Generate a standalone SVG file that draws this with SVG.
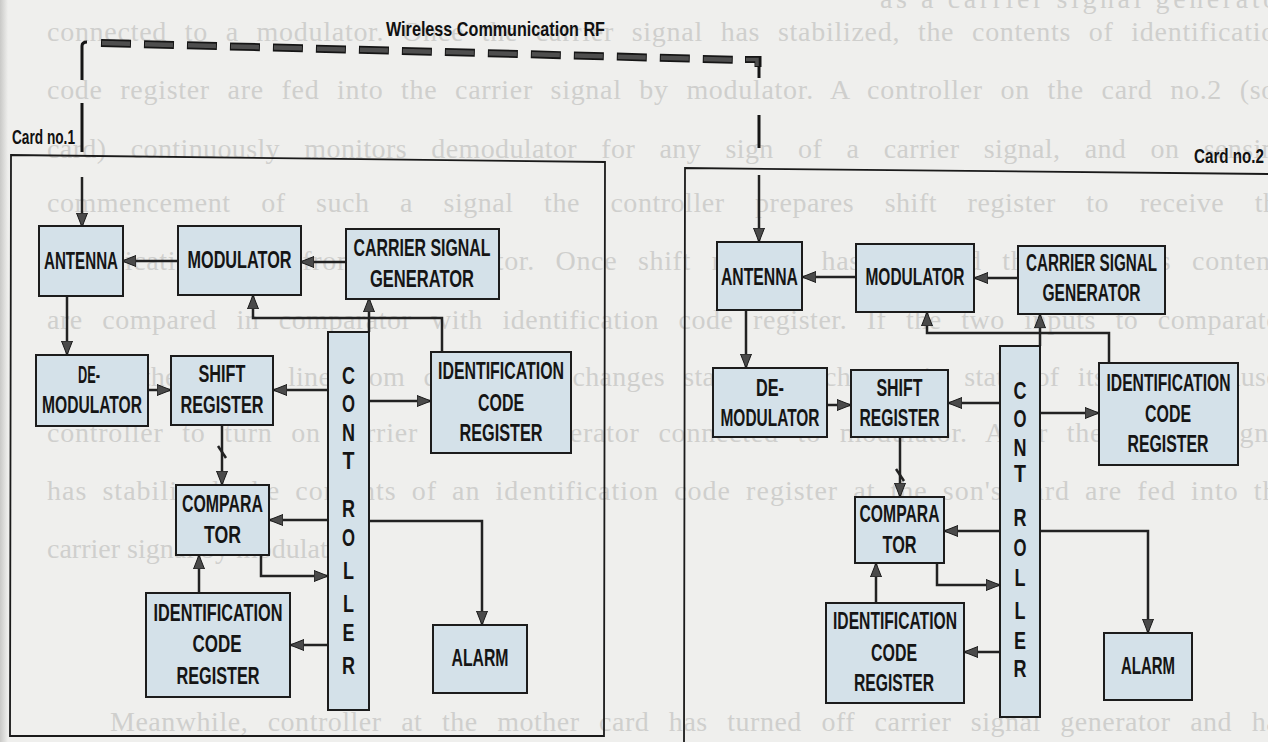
<svg xmlns="http://www.w3.org/2000/svg" width="1268" height="742" viewBox="0 0 1268 742">
<defs>
<style>
.pg{font-family:"Liberation Serif","Times New Roman",serif;font-size:28px;fill:#cfcfcd}
.box{fill:#d4e1e9;stroke:#1c1c1c;stroke-width:2}
.lbl{font-family:"Liberation Sans Narrow","Liberation Sans",Arial,sans-serif;font-weight:bold;font-size:23px;fill:#151515;text-anchor:middle}
.ctl{font-family:"Liberation Sans Narrow","Liberation Sans",Arial,sans-serif;font-weight:bold;font-size:23px;fill:#151515;text-anchor:middle}
.cap{font-family:"Liberation Sans Narrow","Liberation Sans",Arial,sans-serif;font-weight:bold;font-size:21px;fill:#111}
.card{fill:none;stroke:#1a1a1a;stroke-width:1.8}
.ln{fill:none;stroke:#222;stroke-width:2.5}
.ar{marker-end:url(#ah)}
.thin{fill:none;stroke:#151515;stroke-width:3}
</style>
<marker id="ah" markerUnits="userSpaceOnUse" markerWidth="14" markerHeight="12" viewBox="0 0 14 12" refX="13" refY="6" orient="auto">
<path d="M0,0.5 L14,6 L0,11.5 z" fill="#4a4a4a" stroke="#1a1a1a" stroke-width="1"/>
</marker>
<linearGradient id="edge" x1="0" y1="0" x2="1" y2="0">
<stop offset="0" stop-color="#c9c9c7"/>
<stop offset="1" stop-color="#efefed"/>
</linearGradient>
</defs>
<rect x="0" y="0" width="1268" height="742" fill="#efefed"/>
<rect x="0" y="0" width="8" height="742" fill="url(#edge)"/>

<g id="page-text">
<text class="pg" x="880" y="8" textLength="410" lengthAdjust="spacing">as a carrier signal generator</text>
<text class="pg" x="47" y="41" style="word-spacing:10px" textLength="1243" lengthAdjust="spacing">connected to a modulator. Once the carrier signal has stabilized, the contents of identification</text>
<text class="pg" x="47" y="99" style="word-spacing:10px" textLength="1243" lengthAdjust="spacing">code register are fed into the carrier signal by modulator. A controller on the card no.2 (son</text>
<text class="pg" x="47" y="158" style="word-spacing:17px" textLength="1243" lengthAdjust="spacing">card) continuously monitors demodulator for any sign of a carrier signal, and on sensing</text>
<text class="pg" x="47" y="212" style="word-spacing:23px" textLength="1243" lengthAdjust="spacing">commencement of such a signal the controller prepares shift register to receive the</text>
<text class="pg" x="47" y="270" style="word-spacing:13px" textLength="1243" lengthAdjust="spacing">identification code from demodulator. Once shift register has received the code, its contents</text>
<text class="pg" x="47" y="329" style="word-spacing:12px" textLength="1243" lengthAdjust="spacing">are compared in comparator with identification code register. If the two inputs to comparator</text>
<text class="pg" x="47" y="386" style="word-spacing:11px" textLength="1243" lengthAdjust="spacing">match, the output line from comparator changes state. The change in state of its output causes</text>
<text class="pg" x="47" y="442" style="word-spacing:11px" textLength="1243" lengthAdjust="spacing">controller to turn on carrier signal generator connected to modulator. After the carrier signal</text>
<text class="pg" x="47" y="500" style="word-spacing:7px" textLength="1243" lengthAdjust="spacing">has stabilized, the contents of an identification code register at the son's card are fed into the</text>
<text class="pg" x="47" y="558">carrier signal by modulator.</text>
<text class="pg" x="110" y="731" style="word-spacing:12px" textLength="1180" lengthAdjust="spacing">Meanwhile, controller at the mother card has turned off carrier signal generator and has</text>
</g>

<g id="cards">
<path class="card" d="M11,155 L605,162 L604,736 L10,736 Z"/>
<path class="card" d="M1268,174 L685,168 L684,742"/>
<text class="cap" x="12" y="144" textLength="63" lengthAdjust="spacingAndGlyphs">Card no.1</text>
<text class="cap" x="1194" y="163" textLength="70" lengthAdjust="spacingAndGlyphs">Card no.2</text>
</g>

<g id="rf-link">
<line x1="101" y1="43" x2="745" y2="60" stroke="#151515" stroke-width="8" stroke-dasharray="30 13"/>
<line x1="101" y1="43" x2="745" y2="60" stroke="#4e4e4e" stroke-width="4.5" stroke-dasharray="28 15" stroke-dashoffset="-1"/>
<path d="M745,59.5 H758 V67" fill="none" stroke="#151515" stroke-width="7"/>
<path d="M746,59.5 H757 V66" fill="none" stroke="#4e4e4e" stroke-width="3.5"/>
<path class="thin" d="M82,80 V46 Q82,42 87,42"/>
<path class="thin" d="M82,103 V152"/>
<path class="thin" d="M759,66 V78"/>
<path class="thin" d="M759,115 V148"/>
<text class="cap" x="495.5" y="36" text-anchor="middle" font-size="24" textLength="219" lengthAdjust="spacingAndGlyphs">Wireless Communication RF</text>
</g>

<g id="connectors">
<path class="ln ar" d="M82,177 V226"/>
<path class="ln ar" d="M67,296 V354"/>
<path class="ln ar" d="M178,261 H123"/>
<path class="ln ar" d="M346,262 H301"/>
<path class="ln ar" d="M369,332 V299"/>
<path class="ln ar" d="M442,352 V318 H253 V296"/>
<path class="ln ar" d="M148,390 H170"/>
<path class="ln ar" d="M328,390 H274"/>
<path class="ln ar" d="M369,401 H430"/>
<path class="ln ar" d="M222,425 V484"/>
<path class="ln" d="M218,446 L226,458"/>
<path class="ln ar" d="M328,520 H270"/>
<path class="ln ar" d="M369,521 H482 V624"/>
<path class="ln ar" d="M261,555 V576 H327"/>
<path class="ln ar" d="M199,593 V556"/>
<path class="ln ar" d="M328,645 H291"/>

<path class="ln ar" d="M759,175 V241"/>
<path class="ln ar" d="M746,310 V367"/>
<path class="ln ar" d="M856,277 H803"/>
<path class="ln ar" d="M1018,278 H975"/>
<path class="ln ar" d="M1040,346 V315"/>
<path class="ln ar" d="M1109,363 V333 H927 V313"/>
<path class="ln ar" d="M827,405 H850"/>
<path class="ln ar" d="M1000,403 H949"/>
<path class="ln ar" d="M1040,413 H1098"/>
<path class="ln ar" d="M900,437 V496"/>
<path class="ln" d="M896,469 L904,481"/>
<path class="ln ar" d="M1000,531 H945"/>
<path class="ln ar" d="M1040,531 H1148 V632"/>
<path class="ln ar" d="M937,563 V585 H999"/>
<path class="ln ar" d="M876,603 V564"/>
<path class="ln ar" d="M1000,652 H965"/>
</g>

<g id="c1-antenna"><rect class="box" x="39" y="226" width="84" height="70"/><text class="lbl" x="81" y="269" textLength="74" lengthAdjust="spacingAndGlyphs">ANTENNA</text></g>
<g id="c1-modulator"><rect class="box" x="178" y="226" width="123" height="69"/><text class="lbl" x="239.5" y="268" textLength="104" lengthAdjust="spacingAndGlyphs">MODULATOR</text></g>
<g id="c1-carrier"><rect class="box" x="346" y="229" width="153" height="70"/><text class="lbl" x="422" y="256" textLength="137" lengthAdjust="spacingAndGlyphs">CARRIER SIGNAL</text><text class="lbl" x="422" y="287" textLength="104" lengthAdjust="spacingAndGlyphs">GENERATOR</text></g>
<g id="c1-demodulator"><rect class="box" x="36" y="355" width="112" height="71"/><text class="lbl" x="89" y="383" textLength="22" lengthAdjust="spacingAndGlyphs">DE-</text><text class="lbl" x="92" y="413" textLength="100" lengthAdjust="spacingAndGlyphs">MODULATOR</text></g>
<g id="c1-shift"><rect class="box" x="171" y="356" width="102" height="69"/><text class="lbl" x="222" y="382" textLength="47" lengthAdjust="spacingAndGlyphs">SHIFT</text><text class="lbl" x="222" y="413" textLength="83" lengthAdjust="spacingAndGlyphs">REGISTER</text></g>
<g id="c1-controller"><rect class="box" x="328" y="332" width="41" height="378"/>
<text class="ctl" x="348.5" y="384" textLength="13" lengthAdjust="spacingAndGlyphs">C</text>
<text class="ctl" x="348.5" y="412" textLength="13" lengthAdjust="spacingAndGlyphs">O</text>
<text class="ctl" x="348.5" y="441" textLength="13" lengthAdjust="spacingAndGlyphs">N</text>
<text class="ctl" x="348.5" y="469" textLength="12" lengthAdjust="spacingAndGlyphs">T</text>
<text class="ctl" x="348.5" y="517" textLength="13" lengthAdjust="spacingAndGlyphs">R</text>
<text class="ctl" x="348.5" y="546" textLength="13" lengthAdjust="spacingAndGlyphs">O</text>
<text class="ctl" x="348.5" y="579" textLength="11" lengthAdjust="spacingAndGlyphs">L</text>
<text class="ctl" x="348.5" y="612" textLength="11" lengthAdjust="spacingAndGlyphs">L</text>
<text class="ctl" x="348.5" y="641" textLength="12" lengthAdjust="spacingAndGlyphs">E</text>
<text class="ctl" x="348.5" y="674" textLength="13" lengthAdjust="spacingAndGlyphs">R</text></g>
<g id="c1-idreg-top"><rect class="box" x="431" y="352" width="140" height="101"/><text class="lbl" x="501" y="379" textLength="126" lengthAdjust="spacingAndGlyphs">IDENTIFICATION</text><text class="lbl" x="501" y="411" textLength="46" lengthAdjust="spacingAndGlyphs">CODE</text><text class="lbl" x="501" y="441" textLength="83" lengthAdjust="spacingAndGlyphs">REGISTER</text></g>
<g id="c1-comparator"><rect class="box" x="176" y="485" width="93" height="70"/><text class="lbl" x="222.5" y="512" textLength="81" lengthAdjust="spacingAndGlyphs">COMPARA</text><text class="lbl" x="222.5" y="543" textLength="37" lengthAdjust="spacingAndGlyphs">TOR</text></g>
<g id="c1-idreg-bottom"><rect class="box" x="146" y="593" width="144" height="104"/><text class="lbl" x="218" y="621" textLength="129" lengthAdjust="spacingAndGlyphs">IDENTIFICATION</text><text class="lbl" x="217" y="652" textLength="49" lengthAdjust="spacingAndGlyphs">CODE</text><text class="lbl" x="218" y="684" textLength="83" lengthAdjust="spacingAndGlyphs">REGISTER</text></g>
<g id="c1-alarm"><rect class="box" x="433" y="625" width="94" height="68"/><text class="lbl" x="480" y="666" textLength="57" lengthAdjust="spacingAndGlyphs">ALARM</text></g>

<g id="c2-antenna"><rect class="box" x="717" y="242" width="85" height="68"/><text class="lbl" x="759.5" y="285" textLength="77" lengthAdjust="spacingAndGlyphs">ANTENNA</text></g>
<g id="c2-modulator"><rect class="box" x="856" y="244" width="118" height="68"/><text class="lbl" x="915" y="285" textLength="99" lengthAdjust="spacingAndGlyphs">MODULATOR</text></g>
<g id="c2-carrier"><rect class="box" x="1018" y="246" width="147" height="68"/><text class="lbl" x="1091.5" y="271" textLength="131" lengthAdjust="spacingAndGlyphs">CARRIER SIGNAL</text><text class="lbl" x="1091.5" y="301" textLength="98" lengthAdjust="spacingAndGlyphs">GENERATOR</text></g>
<g id="c2-demodulator"><rect class="box" x="713" y="368" width="114" height="69"/><text class="lbl" x="770" y="396" textLength="28" lengthAdjust="spacingAndGlyphs">DE-</text><text class="lbl" x="770" y="426" textLength="99" lengthAdjust="spacingAndGlyphs">MODULATOR</text></g>
<g id="c2-shift"><rect class="box" x="851" y="370" width="97" height="67"/><text class="lbl" x="899.5" y="396" textLength="46" lengthAdjust="spacingAndGlyphs">SHIFT</text><text class="lbl" x="899.5" y="426" textLength="80" lengthAdjust="spacingAndGlyphs">REGISTER</text></g>
<g id="c2-controller"><rect class="box" x="1000" y="346" width="40" height="371"/>
<text class="ctl" x="1020" y="399" textLength="13" lengthAdjust="spacingAndGlyphs">C</text>
<text class="ctl" x="1020" y="427" textLength="13" lengthAdjust="spacingAndGlyphs">O</text>
<text class="ctl" x="1020" y="456" textLength="13" lengthAdjust="spacingAndGlyphs">N</text>
<text class="ctl" x="1020" y="482" textLength="12" lengthAdjust="spacingAndGlyphs">T</text>
<text class="ctl" x="1020" y="526" textLength="13" lengthAdjust="spacingAndGlyphs">R</text>
<text class="ctl" x="1020" y="556" textLength="13" lengthAdjust="spacingAndGlyphs">O</text>
<text class="ctl" x="1020" y="586" textLength="11" lengthAdjust="spacingAndGlyphs">L</text>
<text class="ctl" x="1020" y="619" textLength="11" lengthAdjust="spacingAndGlyphs">L</text>
<text class="ctl" x="1020" y="649" textLength="12" lengthAdjust="spacingAndGlyphs">E</text>
<text class="ctl" x="1020" y="677" textLength="13" lengthAdjust="spacingAndGlyphs">R</text></g>
<g id="c2-idreg-top"><rect class="box" x="1099" y="363" width="139" height="102"/><text class="lbl" x="1168.5" y="391" textLength="124" lengthAdjust="spacingAndGlyphs">IDENTIFICATION</text><text class="lbl" x="1168" y="422" textLength="46" lengthAdjust="spacingAndGlyphs">CODE</text><text class="lbl" x="1168" y="452" textLength="81" lengthAdjust="spacingAndGlyphs">REGISTER</text></g>
<g id="c2-comparator"><rect class="box" x="855" y="497" width="89" height="66"/><text class="lbl" x="899.5" y="522" textLength="80" lengthAdjust="spacingAndGlyphs">COMPARA</text><text class="lbl" x="899.5" y="553" textLength="34" lengthAdjust="spacingAndGlyphs">TOR</text></g>
<g id="c2-idreg-bottom"><rect class="box" x="826" y="603" width="138" height="100"/><text class="lbl" x="895" y="629" textLength="124" lengthAdjust="spacingAndGlyphs">IDENTIFICATION</text><text class="lbl" x="894" y="661" textLength="46" lengthAdjust="spacingAndGlyphs">CODE</text><text class="lbl" x="894" y="691" textLength="80" lengthAdjust="spacingAndGlyphs">REGISTER</text></g>
<g id="c2-alarm"><rect class="box" x="1104" y="633" width="88" height="67"/><text class="lbl" x="1148" y="674" textLength="54" lengthAdjust="spacingAndGlyphs">ALARM</text></g>
</svg>
